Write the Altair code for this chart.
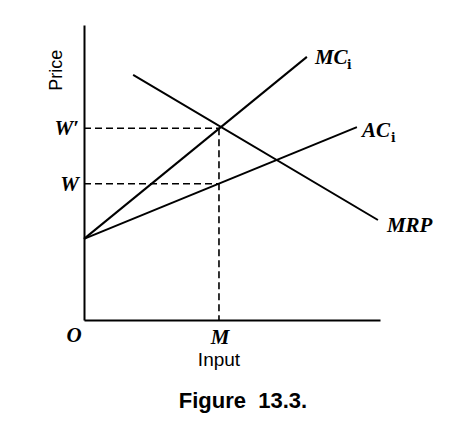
import altair as alt
import pandas as pd

# Curve endpoints (data units: input 0-100, price 0-100)
series = ["MC", "MC", "AC", "AC", "MRP", "MRP"]
xs = [0, 75.3, 0, 92.2, 16.6, 99.3]
ys = [27.5, 89.2, 27.5, 65.4, 83.1, 33.9]

M = 45.6
W_prime = 65.0
W = 46.2

curves = pd.DataFrame({"series": series, "x": xs, "y": ys})

# Dashed guide segments
g_id = ["wp", "wp", "w", "w", "m", "m"]
g_x = [0, M, 0, M, M, M]
g_y = [W_prime, W_prime, W, W, W_prime, 0]
guides = pd.DataFrame({"id": g_id, "x": g_x, "y": g_y})

# Curve labels (at curve ends)
curve_labels = ["MC", "AC", "MRP"]
curve_lx = [75.3, 92.2, 99.3]
curve_ly = [89.2, 65.4, 33.9]
curve_dx = [8, 5, 9]
curve_dy = [1, 4, 6]
sub_labels = ["i", "i"]
sub_lx = [75.3, 92.2]
sub_ly = [89.2, 65.4]
sub_dx = [40, 34]
sub_dy = [8, 11]

price_labels = ["W\u2032", "W"]
price_vals = [W_prime, W]

scale_x = alt.Scale(domain=[0, 100], nice=False, zero=False)
scale_y = alt.Scale(domain=[0, 100], nice=False, zero=False)
ax = alt.Axis(domain=True, ticks=False, labels=False, grid=False, title=None,
              domainColor="black", domainWidth=2)

X = lambda: alt.X("x:Q", scale=scale_x)
Y = lambda: alt.Y("y:Q", scale=scale_y)

lines = alt.Chart(curves).mark_line(color="black", strokeWidth=2).encode(
    x=alt.X("x:Q", scale=scale_x, axis=ax), y=alt.Y("y:Q", scale=scale_y, axis=ax), detail="series:N"
)

dashed = alt.Chart(guides).mark_line(color="black", strokeWidth=1.6, strokeDash=[7, 4]).encode(
    x=X(), y=Y(), detail="id:N"
)

serif = dict(font="Liberation Serif", fontStyle="italic", fontWeight="bold", fontSize=21, color="black")

layers = [lines, dashed]

for lab, lx, ly, ddx, ddy in zip(curve_labels, curve_lx, curve_ly, curve_dx, curve_dy):
    layers.append(
        alt.Chart(pd.DataFrame({"t": [lab], "x": [lx], "y": [ly]})).mark_text(
            align="left", baseline="middle", dx=ddx, dy=ddy, **serif
        ).encode(x=X(), y=Y(), text="t:N")
    )
for lab, lx, ly, ddx, ddy in zip(sub_labels, sub_lx, sub_ly, sub_dx, sub_dy):
    layers.append(
        alt.Chart(pd.DataFrame({"t": [lab], "x": [lx], "y": [ly]})).mark_text(
            align="left", baseline="middle", dx=ddx, dy=ddy,
            font="DejaVu Serif", fontWeight="bold", fontSize=12, color="black"
        ).encode(x=X(), y=Y(), text="t:N")
    )

price_df = pd.DataFrame({"t": price_labels, "x": [0, 0], "y": price_vals})
layers.append(
    alt.Chart(price_df).mark_text(align="right", baseline="middle", dx=-5, dy=1, **serif).encode(
        x=X(), y=Y(), text="t:N")
)

layers.append(
    alt.Chart(pd.DataFrame({"t": ["O"], "x": [0], "y": [0]})).mark_text(
        align="center", baseline="middle", dx=-10, dy=16, **serif).encode(
        x=X(), y=Y(), text="t:N")
)
layers.append(
    alt.Chart(pd.DataFrame({"t": ["M"], "x": [M], "y": [0]})).mark_text(
        align="center", baseline="middle", dx=1, dy=18, **serif).encode(
        x=X(), y=Y(), text="t:N")
)

layers.append(
    alt.Chart(pd.DataFrame({"t": ["Input"], "x": [M], "y": [0]})).mark_text(
        align="center", baseline="middle", dx=0, dy=40, font="Liberation Sans", fontSize=19, color="black").encode(
        x=X(), y=Y(), text="t:N")
)
layers.append(
    alt.Chart(pd.DataFrame({"t": ["Price"], "x": [0], "y": [84.7]})).mark_text(
        align="center", baseline="middle", angle=270, dy=-27, font="Liberation Sans", fontSize=18, color="black").encode(
        x=X(), y=Y(), text="t:N")
)
layers.append(
    alt.Chart(pd.DataFrame({"t": ["Figure\u00a0\u00a013.3."], "x": [53.7], "y": [0]})).mark_text(
        align="center", baseline="middle", dy=81, font="Liberation Sans", fontWeight="bold", fontSize=22, color="black").encode(
        x=X(), y=Y(), text="t:N")
)

chart = alt.layer(*layers).properties(
    width=296, height=295,
    autosize=alt.AutoSizeParams(type="none"),
    padding={"left": 76, "top": 17, "right": 70, "bottom": 95},
    background="white",
).configure_view(stroke=None)

chart.save("out.html", embed_options={"renderer": "svg", "actions": False})
